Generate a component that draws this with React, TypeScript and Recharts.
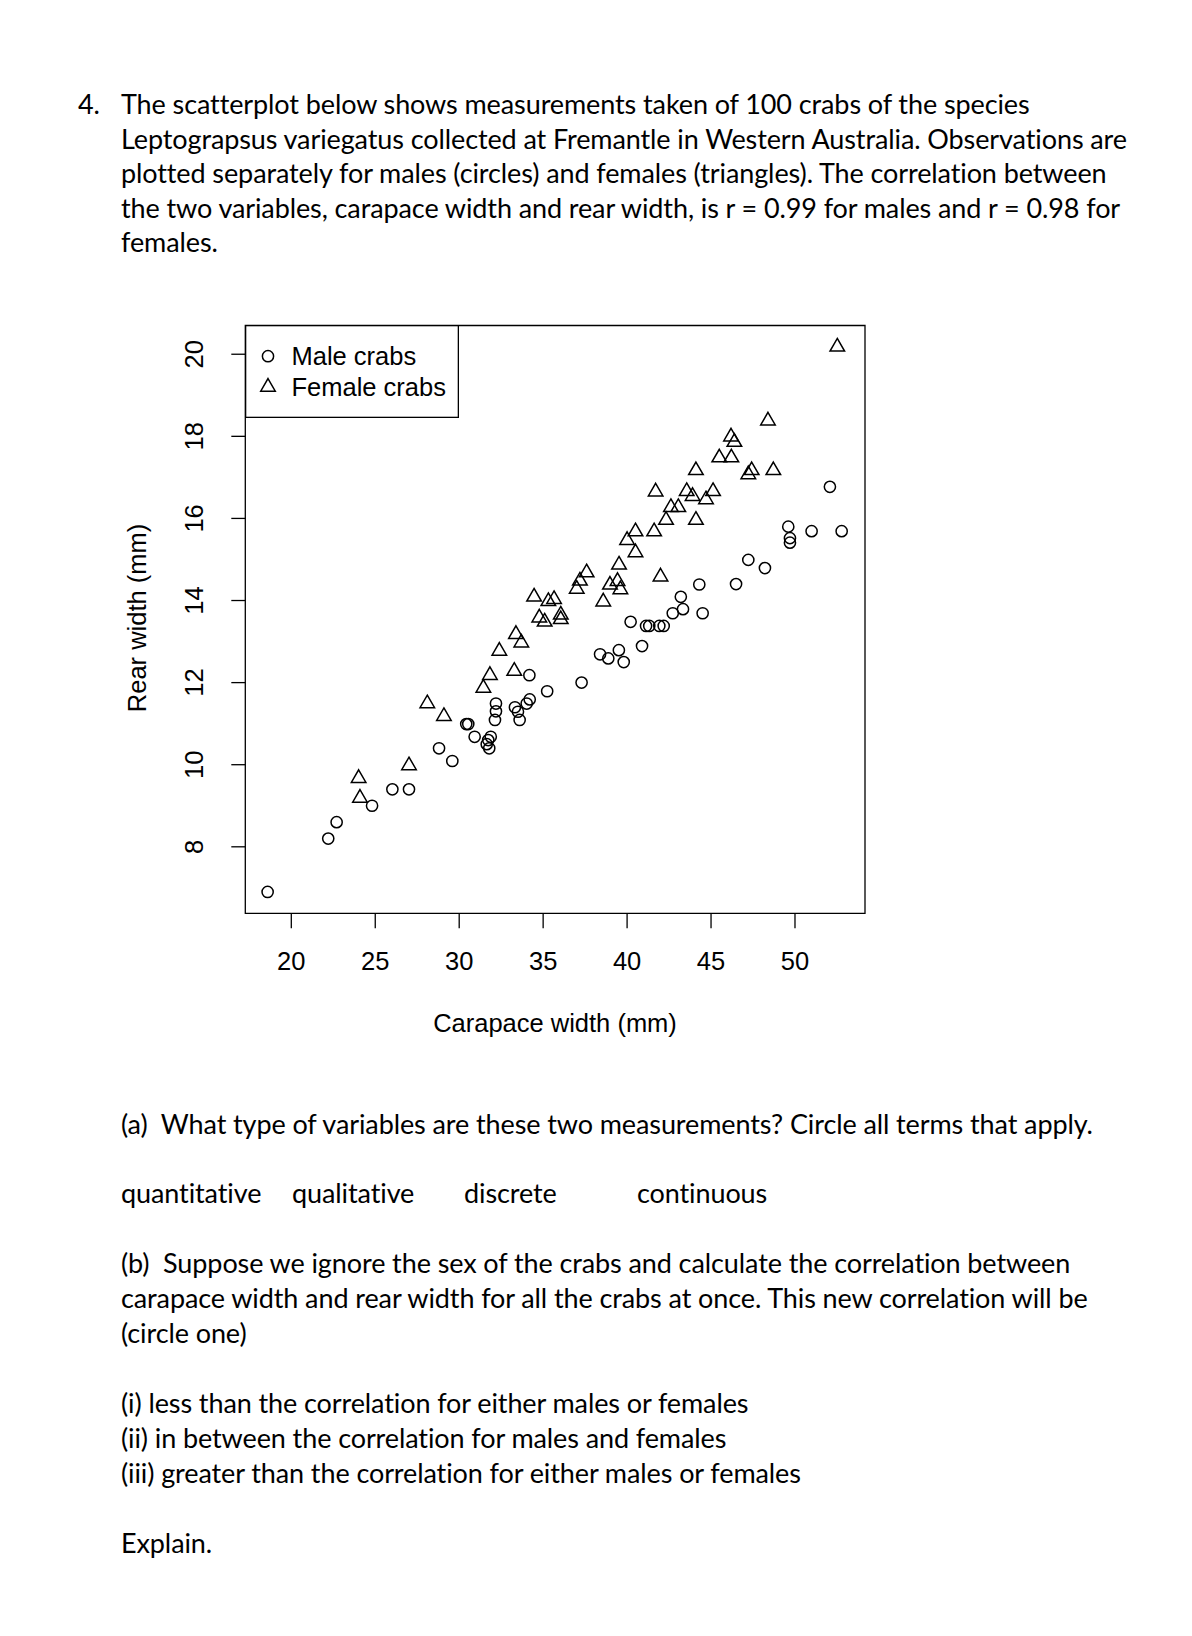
import { Legend, ReferenceArea, Scatter, ScatterChart, XAxis, YAxis } from 'recharts'

// carapace width (mm) / rear width (mm)
const maleCW = [
  18.59, 22.2, 22.7, 24.81, 26.02, 27.01, 28.8, 29.59, 30.42, 30.54,
  30.92, 31.64, 31.73, 31.79, 31.88, 32.13, 32.19, 32.19, 33.32, 33.5,
  33.6, 34.02, 34.2, 34.18, 35.24, 37.29, 38.39, 38.88, 39.51, 39.8,
  40.89, 40.21, 41.13, 41.32, 41.92, 42.18, 42.72, 43.33, 44.5, 43.2,
  44.3, 46.49, 47.22, 48.21, 49.6, 49.7, 49.7, 50.99, 52.78, 52.08,
]
const maleRW = [
  6.9, 8.2, 8.6, 9.0, 9.4, 9.4, 10.4, 10.09, 10.99, 10.99,
  10.68, 10.5, 10.6, 10.4, 10.68, 11.09, 11.3, 11.49, 11.4, 11.29,
  11.09, 11.49, 11.59, 12.18, 11.79, 12.0, 12.69, 12.59, 12.79, 12.5,
  12.89, 13.48, 13.38, 13.38, 13.38, 13.38, 13.69, 13.79, 13.69, 14.09,
  14.39, 14.4, 14.99, 14.79, 15.8, 15.52, 15.41, 15.69, 15.69, 16.77,
]
const femaleCW = [
  24.01, 24.09, 27.01, 28.1, 29.09, 31.44, 31.83, 33.28, 32.39, 33.38,
  33.7, 34.77, 35.09, 34.46, 35.31, 35.65, 36.05, 36.05, 37.0, 37.19,
  37.59, 38.58, 38.98, 39.43, 39.6, 39.52, 40.0, 40.5, 40.5, 41.61,
  41.99, 41.7, 42.32, 42.61, 43.05, 43.55, 43.9, 44.1, 44.7, 45.12,
  44.1, 45.49, 46.21, 46.19, 46.39, 47.22, 47.42, 48.71, 48.39, 52.52,
]
const femaleRW = [
  9.67, 9.19, 9.98, 11.49, 11.18, 11.87, 12.18, 12.28, 12.77, 13.18,
  12.97, 13.58, 13.48, 14.09, 13.98, 14.03, 13.65, 13.54, 14.28, 14.48,
  14.68, 13.97, 14.38, 14.47, 14.27, 14.87, 15.47, 15.17, 15.68, 15.68,
  14.58, 16.65, 15.96, 16.27, 16.27, 16.66, 16.54, 15.96, 16.46, 16.66,
  17.17, 17.48, 17.48, 17.99, 17.86, 17.07, 17.17, 17.17, 18.38, 20.18,
]

const xTicks = [20, 25, 30, 35, 40, 45, 50]
const yTicks = [8, 10, 12, 14, 16, 18, 20]
const xDomain: [number, number] = [17.26, 54.17]
const yDomain: [number, number] = [6.38, 20.7]

const introLines = [
  'The scatterplot below shows measurements taken of 100 crabs of the species',
  'Leptograpsus variegatus collected at Fremantle in Western Australia. Observations are',
  'plotted separately for males (circles) and females (triangles). The correlation between',
  'the two variables, carapace width and rear width, is r = 0.99 for males and r = 0.98 for',
  'females.',
]
const introY = [104, 139, 173, 208, 242]

const bLines = [
  '(b)  Suppose we ignore the sex of the crabs and calculate the correlation between',
  'carapace width and rear width for all the crabs at once. This new correlation will be',
  '(circle one)',
]
const bY = [1263, 1298, 1333]

const options = [
  '(i) less than the correlation for either males or females',
  '(ii) in between the correlation for males and females',
  '(iii) greater than the correlation for either males or females',
]
const optionY = [1403, 1438, 1473]

const terms = ['quantitative', 'qualitative', 'discrete', 'continuous']
const termX = [121, 292, 464, 637]

const males = maleCW.map((cw, i) => ({ cw, rw: maleRW[i] }))
const females = femaleCW.map((cw, i) => ({ cw, rw: femaleRW[i] }))

const plotFont = '"Liberation Sans", Arial, sans-serif'
const fs = 25.5

const CircleDot = ({ cx, cy }: any) => (
  <circle cx={cx} cy={cy} r={5.6} fill="none" stroke="#000" strokeWidth={1.5} />
)

const triPoints = (cx: number, cy: number, s = 5.4) => {
  const r = 1.555 * s
  const xc = 1.347 * s
  const yc = 0.778 * s
  return `${cx},${cy - r} ${cx + xc},${cy + yc} ${cx - xc},${cy + yc}`
}

const TriangleDot = ({ cx, cy }: any) => (
  <polygon points={triPoints(cx, cy)} fill="none" stroke="#000" strokeWidth={1.5} />
)

const YTick = ({ y, payload }: any) => (
  <text
    x={203}
    y={y}
    transform={`rotate(-90 203 ${y})`}
    textAnchor="middle"
    fontFamily={plotFont}
    fontSize={fs}
    fill="#000"
  >
    {payload.value}
  </text>
)

const LegendBox = () => (
  <svg width={214} height={93}>
    <rect x={0.65} y={0.65} width={212.7} height={91.7} fill="#fff" stroke="#000" strokeWidth={1.3} />
    <circle cx={23} cy={31.2} r={5.6} fill="none" stroke="#000" strokeWidth={1.5} />
    <polygon points={triPoints(23, 62)} fill="none" stroke="#000" strokeWidth={1.5} />
    <text x={46.5} y={40.3} fontFamily={plotFont} fontSize={fs} fill="#000">
      Male crabs
    </text>
    <text x={46.5} y={71} fontFamily={plotFont} fontSize={fs} fill="#000">
      Female crabs
    </text>
  </svg>
)

const TextLine = ({ x, y, children }: { x: number; y: number; children: React.ReactNode }) => (
  <div
    style={{
      position: 'absolute',
      left: x,
      top: y - 17,
      lineHeight: '34px',
      whiteSpace: 'pre',
      letterSpacing: '-0.1px',
    }}
  >
    {children}
  </div>
)

const CrabChart = () => (
  <div style={{ position: 'absolute', left: 0, top: 0, letterSpacing: 'normal' }}>
    <ScatterChart
      width={1192}
      height={1080}
      margin={{ top: 325.5, left: 145.3, right: 1192 - 865, bottom: 1080 - 913.3 - 100 }}
    >
      <XAxis
        type="number"
        dataKey="cw"
        domain={xDomain}
        allowDataOverflow
        ticks={xTicks}
        height={100}
        axisLine={false}
        tickSize={15}
        tickMargin={24}
        tickLine={{ stroke: '#000', strokeWidth: 1.3 }}
        tick={{ fill: '#000', fontSize: fs, fontFamily: plotFont }}
        label={() => (
          <text x={555} y={1032} textAnchor="middle" fontFamily={plotFont} fontSize={fs} fill="#000">
            Carapace width (mm)
          </text>
        )}
      />
      <YAxis
        type="number"
        dataKey="rw"
        domain={yDomain}
        allowDataOverflow
        ticks={yTicks}
        width={100}
        axisLine={false}
        tickSize={14}
        tickLine={{ stroke: '#000', strokeWidth: 1.3 }}
        tick={<YTick />}
        label={() => (
          <text
            x={146}
            y={618}
            transform="rotate(-90 146 618)"
            textAnchor="middle"
            fontFamily={plotFont}
            fontSize={fs}
            fill="#000"
          >
            Rear width (mm)
          </text>
        )}
      />
      <ReferenceArea
        x1={xDomain[0]}
        x2={xDomain[1]}
        y1={yDomain[0]}
        y2={yDomain[1]}
        fill="none"
        stroke="#000"
        strokeWidth={1.3}
        ifOverflow="visible"
      />
      <Legend
        layout="vertical"
        align="center"
        verticalAlign="middle"
        content={() => <LegendBox />}
        wrapperStyle={{ left: 245, top: 325, width: 214, height: 93 }}
      />
      <Scatter name="Male crabs" data={males} shape={<CircleDot />} isAnimationActive={false} />
      <Scatter name="Female crabs" data={females} shape={<TriangleDot />} isAnimationActive={false} />
    </ScatterChart>
  </div>
)

export default function App() {
  return (
    <div
      style={{
        position: 'absolute',
        left: 0,
        top: 0,
        width: 1192,
        height: 1636,
        background: '#fff',
        fontFamily: 'Lato, "Open Sans", sans-serif',
        fontSize: 27,
        color: '#000',
      }}
    >
      <TextLine x={78} y={introY[0]}>4.</TextLine>
      {introLines.map((t, i) => (
        <TextLine key={t} x={121} y={introY[i]}>
          {t}
        </TextLine>
      ))}
      <CrabChart />
      <TextLine x={121} y={1124}>
        {'(a)  What type of variables are these two measurements? Circle all terms that apply.'}
      </TextLine>
      {terms.map((t, i) => (
        <TextLine key={t} x={termX[i]} y={1193}>
          {t}
        </TextLine>
      ))}
      {bLines.map((t, i) => (
        <TextLine key={t} x={121} y={bY[i]}>
          {t}
        </TextLine>
      ))}
      {options.map((t, i) => (
        <TextLine key={t} x={121} y={optionY[i]}>
          {t}
        </TextLine>
      ))}
      <TextLine x={121} y={1543}>Explain.</TextLine>
    </div>
  )
}
